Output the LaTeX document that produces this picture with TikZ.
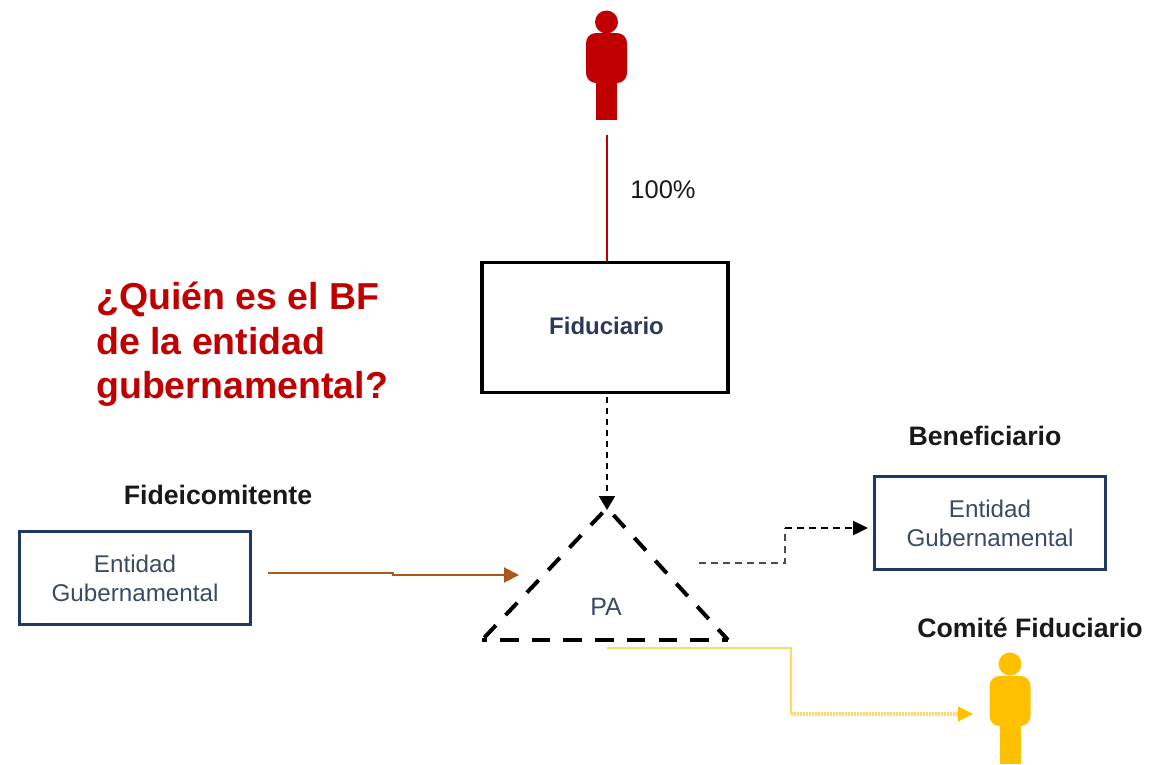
\documentclass[tikz,border=0pt]{standalone}
\usepackage{fontspec}
\setmainfont{Liberation Sans}
\usetikzlibrary{arrows.meta,shapes.geometric}
\definecolor{redfig}{HTML}{C00000}
\definecolor{yellowfig}{HTML}{FFC000}
\definecolor{paleyellow}{HTML}{FFD966}
\definecolor{navybox}{HTML}{1F3864}
\definecolor{slatetext}{HTML}{3B4A63}
\definecolor{fidtext}{HTML}{2B3A5C}
\definecolor{brownline}{HTML}{A9591B}
\tikzset{
  govbox/.style={draw=navybox,line width=2.6pt,minimum width=231pt,minimum height=93pt,inner sep=0pt,align=center,text=slatetext,font=\fontsize{24.2}{29}\selectfont},
  fidbox/.style={draw=black,line width=3.2pt,minimum width=246pt,minimum height=130pt,inner sep=0pt},
  rolelabel/.style={inner sep=0pt,text=black!90,font=\bfseries\fontsize{26.7}{30}\selectfont},
  personhead/.style={circle,inner sep=0pt,minimum size=23pt},
  personbody/.style={rounded corners=10pt,inner sep=0pt,minimum width=41pt,minimum height=50pt},
  personleg/.style={inner sep=0pt,minimum width=21pt,minimum height=38pt},
}
\begin{document}
\begin{tikzpicture}[x=1pt,y=-1pt]
\useasboundingbox (0,0) rectangle (1150,764);
% red person
\node[personleg,fill=redfig] (redleg) at (606.5,100.5) {};
\node[personbody,fill=redfig] (redbody) at (606.5,58) {};
\node[personhead,fill=redfig] (redhead) at (606.5,22) {};
% yellow person
\node[personleg,fill=yellowfig] (yelleg) at (1010,745) {};
\node[personbody,fill=yellowfig] (yelbody) at (1010,701) {};
\node[personhead,fill=yellowfig] (yelhead) at (1010,664) {};
% boxes
\node[fidbox] (fid) at (605,327.5) {};
\node[inner sep=0pt,text=fidtext,font=\bfseries\fontsize{24}{28}\selectfont] (fidlabel) at (606.5,326) {Fiduciario};
\node[govbox] (gov1) at (135,578) {Entidad\\Gubernamental};
\node[govbox] (gov2) at (990,523) {Entidad\\Gubernamental};
% triangle
\coordinate (tA) at (607,508);
\coordinate (tB) at (728,640);
\coordinate (tC) at (482,640);
\draw[black,line width=4pt,dash pattern=on 17pt off 14pt,dash phase=21.5pt] (tA) -- (tB);
\draw[black,line width=4pt,dash pattern=on 17pt off 14pt,dash phase=24.5pt] (tA) -- (tC);
\draw[black,line width=4.2pt,dash pattern=on 18.5pt off 13.2pt,dash phase=13.7pt] (tC) -- (tB);
\node[inner sep=0pt,text=slatetext,font=\fontsize{25}{28}\selectfont] (pa) at (606,607) {PA};
% labels
\node[inner sep=0pt,text=black!90,font=\fontsize{25.5}{30}\selectfont] (pct) at (663,190) {100\%};
\node[rolelabel] (fideico) at (218,495) {Fideicomitente};
\node[rolelabel] (benef) at (985,436) {Beneficiario};
\node[rolelabel] (comite) at (1030,628) {Comité Fiduciario};
\node[inner sep=0pt,text=redfig,align=left,anchor=north west,font=\bfseries\fontsize{37.5}{44.5}\selectfont] (question) at (96,282) {¿Quién es el BF\\de la entidad\\gubernamental?};
% connectors
\coordinate (redtop) at (607,135);
\draw[redfig,line width=1.8pt] (redtop) -- (fid.north -| redtop);
\coordinate (fidout) at (607,397);
\draw[black,line width=2pt,dash pattern=on 6pt off 5pt,-{Triangle[length=14pt,width=16pt]}] (fidout) -- (607,510);
\coordinate (broA) at (268,573);
\coordinate (broB) at (519,575);
\draw[brownline,line width=2pt,-{Triangle[length=15pt,width=15pt]}] (broA) -- (393,573) -- (393,575) -- (broB);
\coordinate (greyA) at (699,563);
\coordinate (darkA) at (785,528);
\coordinate (darkB) at (868,528);
\draw[black!70,line width=2.8pt,dash pattern=on 7pt off 5pt] (greyA) -- (785,563) -- (darkA);
\draw[black,line width=2.4pt,dash pattern=on 7pt off 5pt,-{Triangle[length=15pt,width=14pt]}] (darkA) -- (darkB);
\coordinate (yelA) at (607,648);
\coordinate (yelB) at (973,714);
\draw[paleyellow,line width=1.8pt] (yelA) -- (791,648) -- (791,714);
\draw[paleyellow,line width=3.4pt,dash pattern=on 2pt off 1pt] (791,714) -- (958,714);
\draw[yellowfig,line width=1pt,-{Triangle[length=15pt,width=15pt]}] (958,714) -- (yelB);
\end{tikzpicture}
\end{document}
